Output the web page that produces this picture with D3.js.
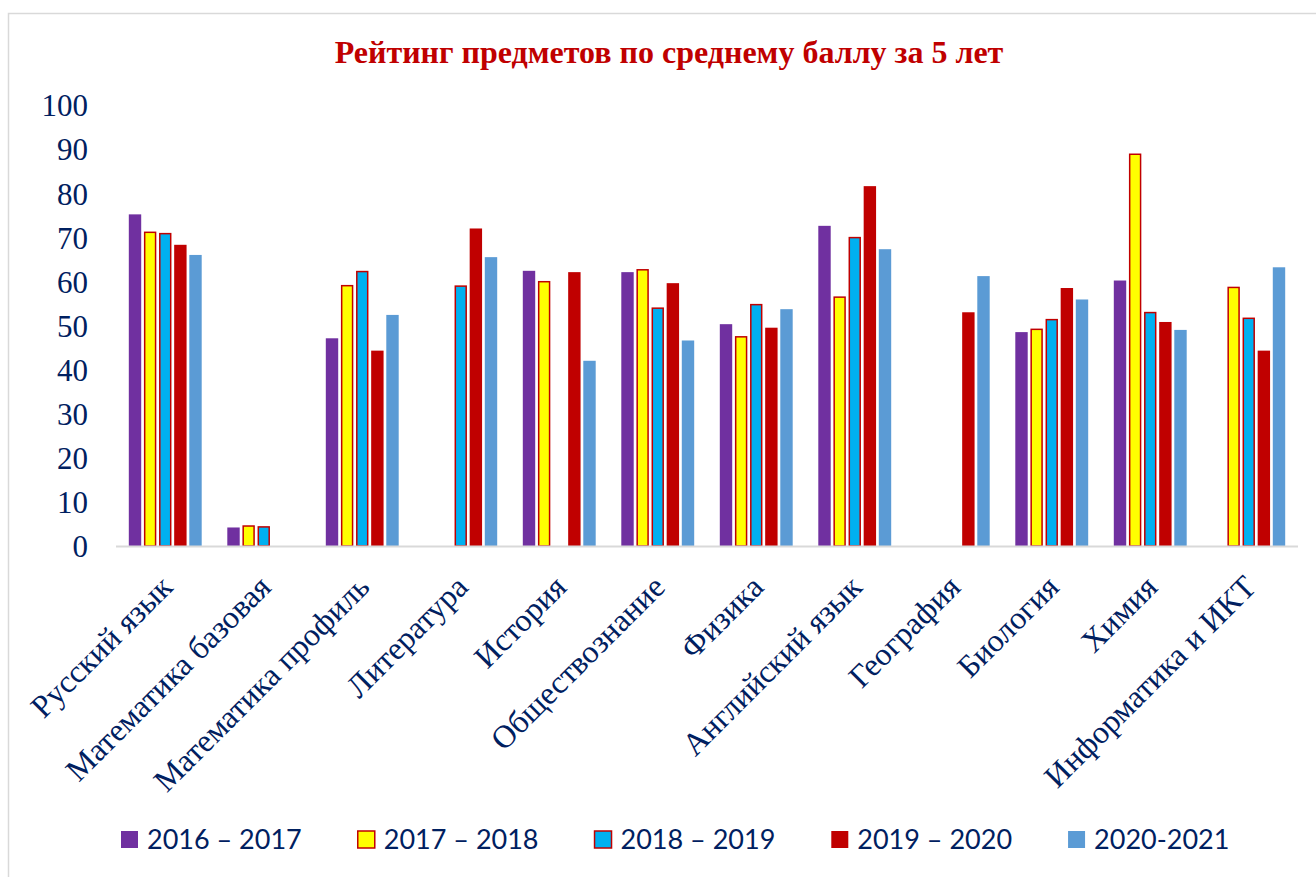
<!DOCTYPE html>
<html>
<head>
<meta charset="utf-8">
<script src="https://cdn.jsdelivr.net/npm/d3@7"></script>
<style>
  body { margin: 0; background: #fff; }
  svg { display: block; }
</style>
</head>
<body>
<svg id="chart"></svg>
<script>
// subjects on the x axis
const subjects = [
    "Русский язык", "Математика базовая", "Математика профиль", "Литература",
    "История", "Обществознание", "Физика", "Английский язык",
    "География", "Биология", "Химия", "Информатика и ИКТ"
];
const years = ["2016 – 2017", "2017 – 2018", "2018 – 2019", "2019 – 2020", "2020-2021"];

// average score per subject, one array per school year (null = no exam)
const y2016 = [75.2, 4.2, 47.1, null, 62.4, 62.1, 50.3, 72.6, null, 48.5, 60.2, null];
const y2017 = [71.3, 4.7, 59.2, null, 60.1, 62.8, 47.6, 56.6, null, 49.3, 89.0, 58.8];
const y2018 = [71.0, 4.5, 62.4, 59.1, null, 54.1, 54.9, 70.1, null, 51.5, 53.1, 51.8];
const y2019 = [68.3, null, 44.3, 72.0, 62.1, 59.6, 49.5, 81.6, 53.0, 58.5, 50.8, 44.3];
const y2020 = [66.0, null, 52.4, 65.5, 42.0, 46.6, 53.7, 67.3, 61.2, 55.9, 49.0, 63.2];
const yTicks = [0, 10, 20, 30, 40, 50, 60, 70, 80, 90, 100];

const series = [y2016, y2017, y2018, y2019, y2020];
const fills = ["#7030A0", "#FFFF00", "#00B0F0", "#C00000", "#5B9BD5"];
const strokes = [null, "#C00000", "#C00000", null, null];

const W = 1316, H = 877;
const plotLeft = 116, plotRight = 1298, plotTop = 105, plotBottom = 546;
const navy = "#002060";
const serif = "'Liberation Serif', 'Times New Roman', serif";

const svg = d3.select("#chart").attr("width", W).attr("height", H);

// chart frame
svg.append("rect")
    .attr("x", 8.5).attr("y", 13.5)
    .attr("width", W).attr("height", H)
    .attr("fill", "none").attr("stroke", "#d9d9d9").attr("stroke-width", 1.5);

svg.append("text")
    .attr("x", 669).attr("y", 63)
    .attr("text-anchor", "middle")
    .attr("font-family", serif)
    .attr("font-weight", "bold")
    .attr("font-size", 32)
    .attr("fill", "#C00000")
    .text("Рейтинг предметов по среднему баллу за 5 лет");

const x0 = d3.scaleBand().domain(subjects).range([plotLeft, plotRight])
    .paddingInner(0.26).paddingOuter(0.13);
const x1 = d3.scaleBand().domain(d3.range(series.length)).range([0, x0.bandwidth()])
    .paddingInner(0.18);
const y = d3.scaleLinear().domain([0, 100]).range([plotBottom, plotTop]);

// y axis: labels only
const yAxis = svg.append("g")
    .attr("transform", "translate(" + (plotLeft - 28) + ",0)")
    .call(d3.axisLeft(y).tickValues(yTicks).tickSize(0).tickPadding(0));
yAxis.select(".domain").remove();
yAxis.selectAll("text")
    .attr("font-family", serif)
    .attr("font-size", 31)
    .attr("fill", navy)
    .attr("dy", "0.35em");

// bars
const rows = subjects.map((s, i) => series.map((arr, k) => ({subject: s, k: k, v: arr[i]})));
svg.append("g").selectAll("g")
    .data(rows)
    .join("g")
    .attr("transform", (d, i) => "translate(" + x0(subjects[i]) + ",0)")
    .selectAll("rect")
    .data(d => d.filter(e => e.v != null))
    .join("rect")
    .attr("x", d => x1(d.k) + (strokes[d.k] ? 0.75 : 0))
    .attr("y", d => y(d.v) + (strokes[d.k] ? 0.75 : 0))
    .attr("width", d => x1.bandwidth() - (strokes[d.k] ? 1.5 : 0))
    .attr("height", d => y(0) - y(d.v) - (strokes[d.k] ? 0.75 : 0))
    .attr("fill", d => fills[d.k])
    .attr("stroke", d => strokes[d.k] || "none")
    .attr("stroke-width", 1.5);

// baseline
svg.append("line")
    .attr("x1", plotLeft).attr("x2", plotRight)
    .attr("y1", plotBottom + 0.5).attr("y2", plotBottom + 0.5)
    .attr("stroke", "#d9d9d9").attr("stroke-width", 2);

// rotated category labels
svg.append("g").selectAll("text")
    .data(subjects)
    .join("text")
    .attr("transform", d => "translate(" + (x0(d) + x0.bandwidth() / 2 + 9) + "," + (plotBottom + 43) + ") rotate(-45)")
    .attr("text-anchor", "end")
    .attr("font-family", serif)
    .attr("font-size", 32)
    .attr("fill", navy)
    .text(d => d);

// legend
const legend = svg.append("g");
const items = legend.selectAll("g")
    .data(years)
    .join("g");
items.append("rect")
    .attr("x", 0).attr("y", -9)
    .attr("width", 17).attr("height", 17)
    .attr("fill", (d, i) => fills[i])
    .attr("stroke", (d, i) => strokes[i] || "none")
    .attr("stroke-width", 1.5);
items.append("text")
    .attr("x", 26).attr("dy", "0.35em")
    .attr("font-family", "Lato, 'Open Sans', sans-serif")
    .attr("font-size", 27)
    .attr("fill", navy)
    .text(d => d);
let lx = 121;
items.each(function () {
    const g = d3.select(this);
    g.attr("transform", "translate(" + lx + ",840)");
    lx += 26 + g.select("text").node().getComputedTextLength() + 56;
});
</script>
</body>
</html>
